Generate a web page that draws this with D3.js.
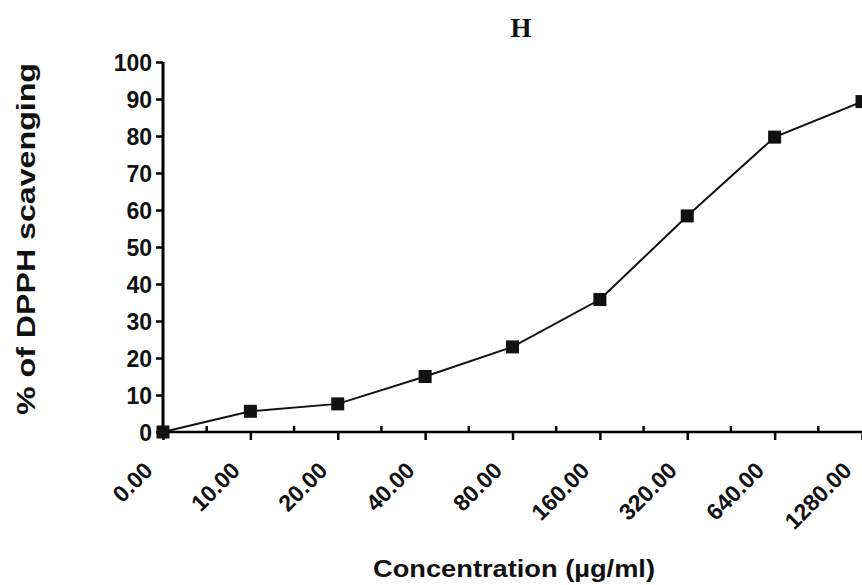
<!DOCTYPE html>
<html><head><meta charset="utf-8">
<script src="https://cdn.jsdelivr.net/npm/d3@7"></script>
<style>body{margin:0;background:#fff}svg{display:block}</style>
</head><body>
<svg id="c" width="862" height="585"></svg>
<script>
const categories = ["0.00","10.00","20.00","40.00","80.00","160.00","320.00","640.00","1280.00"];
const values = [0, 5.6, 7.6, 15, 23, 35.8, 58.4, 79.7, 89.3];
const yTicks = [0,10,20,30,40,50,60,70,80,90,100];
const title = "H";
const xTitle = "Concentration (µg/ml)";
const yTitle = "% of DPPH scavenging";

const svg = d3.select("#c");
const L = 163, R = 862, T = 62, B = 432;
const x = d3.scalePoint().domain(categories).range([L, R]).padding(0);
const y = d3.scaleLinear().domain([0,100]).range([B, T]);
const sans = "'Liberation Sans', Arial, sans-serif";

// title
svg.append("text").attr("x", 521).attr("y", 37).attr("text-anchor","middle")
  .attr("font-family","'Liberation Serif', 'Times New Roman', serif").attr("font-weight","bold")
  .attr("font-size",27).attr("fill","#111").text(title);

// y axis
const ya = svg.append("g").attr("transform",`translate(${L},0)`)
  .call(d3.axisLeft(y).tickValues(yTicks).tickSize(7).tickPadding(4).tickFormat(d3.format("d")));
ya.select(".domain").attr("stroke","#000").attr("stroke-width",3).attr("d",`M0,${T}V${B}`);
ya.selectAll(".tick line").attr("stroke","#000").attr("stroke-width",2.5);
ya.selectAll(".tick text").attr("font-family",sans).attr("font-weight","bold").attr("font-size",23).attr("fill","#111")
  .attr("dy","0.36em");

// x axis
const xa = svg.append("g").attr("transform",`translate(0,${B})`)
  .call(d3.axisBottom(x).tickSize(8).tickFormat(""));
xa.select(".domain").attr("stroke","#000").attr("stroke-width",2.5).attr("d",`M${L},0H${R}`);
xa.selectAll(".tick line").attr("stroke","#000").attr("stroke-width",2.5);
// minor ticks (upward) between categories
const mids = d3.pairs(categories).map(([a,b]) => (x(a)+x(b))/2);
xa.selectAll(".minor").data(mids).join("line").attr("class","minor")
  .attr("x1",d=>d).attr("x2",d=>d).attr("y1",0).attr("y2",-6).attr("stroke","#000").attr("stroke-width",2.5);
// rotated tick labels
svg.append("g").selectAll("text").data(categories).join("text")
  .attr("transform", d => `translate(${x(d)-9},${B+40}) rotate(-45)`)
  .attr("text-anchor","end").attr("font-family",sans).attr("font-weight","bold").attr("font-size",23)
  .attr("fill","#111").text(d=>d);

// line
svg.append("path").datum(values)
  .attr("fill","none").attr("stroke","#111").attr("stroke-width",2)
  .attr("d", d3.line().x((d,i)=>x(categories[i])).y(d=>y(d)));
// markers
const s = 13;
svg.append("g").selectAll("rect").data(values).join("rect")
  .attr("x",(d,i)=>x(categories[i])-s/2).attr("y",d=>y(d)-s/2)
  .attr("width",s).attr("height",s).attr("fill","#111");

// axis titles
svg.append("text").attr("x",514).attr("y",577).attr("text-anchor","middle")
  .attr("font-family",sans).attr("font-weight","bold").attr("font-size",24).attr("fill","#111")
  .attr("textLength",282).attr("lengthAdjust","spacingAndGlyphs").text(xTitle);
svg.append("text").attr("transform","translate(35,239) rotate(-90)").attr("text-anchor","middle")
  .attr("font-family",sans).attr("font-weight","bold").attr("font-size",25).attr("fill","#111")
  .attr("textLength",352).attr("lengthAdjust","spacingAndGlyphs").text(yTitle);
</script>
</body></html>
